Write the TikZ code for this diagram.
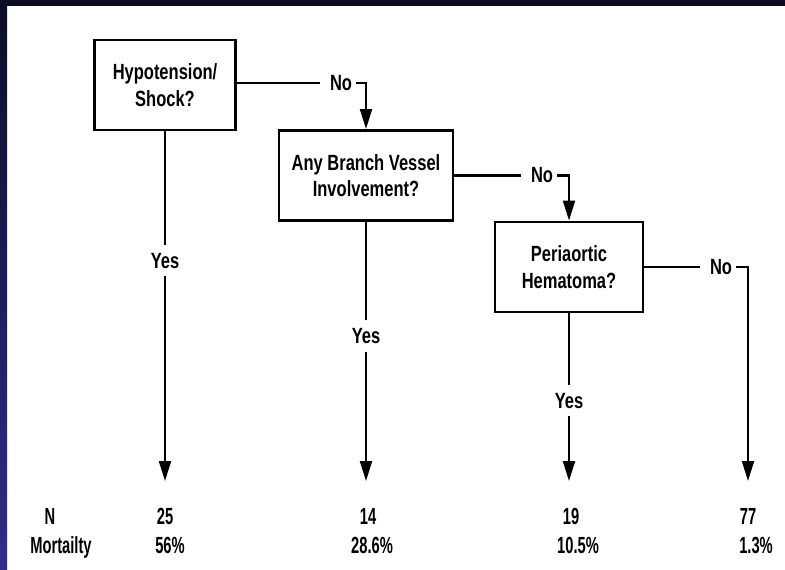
\documentclass[tikz,border=0pt]{standalone}
\usepackage{fontspec}
\setmainfont{Liberation Sans}[FakeStretch=0.75]
\newfontfamily\narrowfont{Liberation Sans}[FakeStretch=0.63]
\usetikzlibrary{arrows.meta}
\definecolor{framenavy}{HTML}{0C0C26}
\definecolor{frameblue}{HTML}{2E2E8E}
\tikzset{
  qbox/.style={draw,line width=2.2pt,inner sep=0pt,minimum height=67.5pt,align=center,
    font=\bfseries\fontsize{16.5}{20}\selectfont},
  lbl/.style={font=\bfseries\fontsize{16.5}{18}\selectfont,inner sep=3pt},
  yeslbl/.style={lbl,fill=white,inner sep=6pt},
  stat/.style={font=\narrowfont\bfseries\fontsize{17.5}{18}\selectfont,inner sep=0pt,anchor=base},
  link/.style={line width=1.6pt},
  noline/.style={link,shorten >=4.5pt},
  flow/.style={link,-{Triangle[length=15pt,width=9pt]}}
}
\begin{document}
\begin{tikzpicture}[x=0.75pt,y=-0.75pt]
  \useasboundingbox (0,0) rectangle (785,570);
  \fill[white] (0,0) rectangle (785,570);
  \fill[framenavy] (0,0) rectangle (785,6);
  \shade[top color=framenavy,bottom color=frameblue] (0,0) rectangle (7,570);
  % questions
  \node[qbox,minimum width=105.75pt] (shock) at (165,85) {Hypotension/\\Shock?};
  \node[qbox,minimum width=130.5pt] (branch) at (366,175.5) {Any Branch Vessel\\Involvement?};
  \node[qbox,minimum width=111pt] (hema) at (569,267) {Periaortic\\Hematoma?};
  \node[lbl] (no1) at (341,83) {No};
  \node[lbl] (no2) at (542,175.5) {No};
  \node[lbl] (no3) at (721,267) {No};
  \coordinate (end1) at (165,481);
  \coordinate (end2) at (366,481);
  \coordinate (end3) at (569,481);
  \coordinate (end4) at (748,481);
  % no branches
  \draw[noline] (shock.east |- no1) -- (no1.west);
  \draw[flow] (no1.east) -| (branch.north);
  \draw[noline] (branch.east) -- (no2.west);
  \draw[flow] (no2.east) -| (hema.north);
  \draw[noline] (hema.east) -- (no3.west);
  \draw[flow] (no3.east) -| (end4);
  % yes branches
  \draw[flow] (shock.south) -- node[yeslbl,pos=0.37] (yes1) {Yes} (end1);
  \draw[flow] (branch.south) -- node[yeslbl,pos=0.44] (yes2) {Yes} (end2);
  \draw[flow] (hema.south) -- node[yeslbl,pos=0.52] (yes3) {Yes} (end3);
  % counts
  \node[stat] (nhead) at (50,524) {N};
  \node[stat] (mhead) at (61,553) {Mortailty};
  \node[stat] (n1) at (165,524) {25};
  \node[stat] (m1) at (170,553) {56\%};
  \node[stat] (n2) at (368,524) {14};
  \node[stat] (m2) at (372,553) {28.6\%};
  \node[stat] (n3) at (571,524) {19};
  \node[stat] (m3) at (578,553) {10.5\%};
  \node[stat] (n4) at (748,524) {77};
  \node[stat] (m4) at (756,553) {1.3\%};
\end{tikzpicture}
\end{document}
